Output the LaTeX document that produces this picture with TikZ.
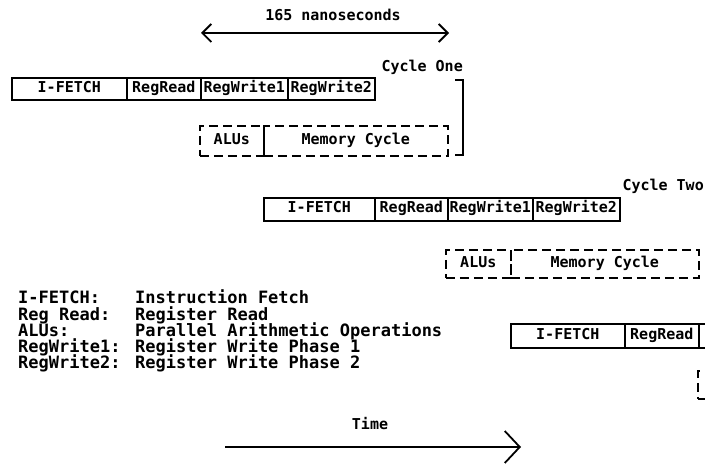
\documentclass[tikz,border=0pt]{standalone}
\usepackage{fontspec}
\setmonofont{DejaVu Sans Mono}
\usetikzlibrary{arrows.meta}
\begin{document}
\begin{tikzpicture}[x=1pt,y=-1pt,
  stage/.style={draw, line width=1.6pt, inner sep=0pt, anchor=north west,
    font=\ttfamily\bfseries\fontsize{15}{17}\selectfont, text height=9pt, text depth=2.5pt},
  phase/.style={stage, dashed, dash pattern=on 9pt off 5pt},
  lbl/.style={inner sep=0pt, font=\ttfamily\bfseries\fontsize{15}{17}\selectfont},
  legend/.style={inner sep=0pt, anchor=base west, font=\ttfamily\bfseries\fontsize{17}{17}\selectfont},
  span/.style={line width=1.8pt, {Straight Barb[length=9pt,width=18pt]}-{Straight Barb[length=9pt,width=18pt]}},
  timearrow/.style={line width=1.8pt, -{Straight Barb[length=15pt,width=32pt]}}
]
\useasboundingbox (0,0) rectangle (705,468);

% 165 ns span
\coordinate (nsL) at (201,33);
\coordinate (nsR) at (449,33);
\draw[span] (nsL) -- (nsR);
\node[lbl] (ns) at (333,15) {165 nanoseconds};

% Cycle one
\node[lbl, anchor=base east] (cyc1) at (463,72) {Cycle One};
\node[stage, minimum width=115pt, minimum height=22pt] (c1if) at (11,77) {I-FETCH};
\node[stage, minimum width=74pt, minimum height=22pt] (c1rr) at (126,77) {RegRead};
\node[stage, minimum width=87pt, minimum height=22pt] (c1wa) at (200,77) {RegWrite1};
\node[stage, minimum width=87pt, minimum height=22pt] (c1wb) at (287,77) {RegWrite2};
\node[phase, minimum width=64pt, minimum height=30pt] (c1alu) at (199,125) {ALUs};
\node[phase, minimum width=184pt, minimum height=30pt] (c1mem) at (263,125) {Memory Cycle};
\draw[line width=1.8pt] (455,80) -- (463,80) -- (463,155) -- (455,155);

% Cycle two
\node[lbl, anchor=base east] (cyc2) at (704,191) {Cycle Two};
\node[stage, minimum width=111pt, minimum height=23pt] (c2if) at (263,197) {I-FETCH};
\node[stage, minimum width=73pt, minimum height=23pt] (c2rr) at (374,197) {RegRead};
\node[stage, minimum width=85pt, minimum height=23pt] (c2wa) at (447,197) {RegWrite1};
\node[stage, minimum width=87pt, minimum height=23pt] (c2wb) at (532,197) {RegWrite2};
\node[phase, minimum width=65pt, minimum height=28pt] (c2alu) at (445,249) {ALUs};
\node[phase, minimum width=188pt, minimum height=28pt] (c2mem) at (510,249) {Memory Cycle};

% Cycle three (cut by the right edge)
\node[stage, minimum width=114pt, minimum height=24pt] (c3if) at (510,323) {I-FETCH};
\node[stage, minimum width=74pt, minimum height=24pt] (c3rr) at (624,323) {RegRead};
\node[stage, minimum width=87pt, minimum height=24pt] (c3wa) at (698,323) {};
\node[phase, minimum width=64pt, minimum height=28pt] (c3alu) at (697,370) {};

% Legend
\node[legend] (k1) at (18,303) {I-FETCH:};
\node[legend] (k2) at (18,320) {Reg Read:};
\node[legend] (k3) at (18,336) {ALUs:};
\node[legend] (k4) at (18,352) {RegWrite1:};
\node[legend] (k5) at (18,368) {RegWrite2:};
\node[legend] (v1) at (135,303) {Instruction Fetch};
\node[legend] (v2) at (135,320) {Register Read};
\node[legend] (v3) at (135,336) {Parallel Arithmetic Operations};
\node[legend] (v4) at (135,352) {Register Write Phase 1};
\node[legend] (v5) at (135,368) {Register Write Phase 2};

% Time arrow
\node[lbl] (time) at (370,424) {Time};
\coordinate (tL) at (225,447);
\coordinate (tR) at (521,447);
\draw[timearrow] (tL) -- (tR);
\end{tikzpicture}
\end{document}
